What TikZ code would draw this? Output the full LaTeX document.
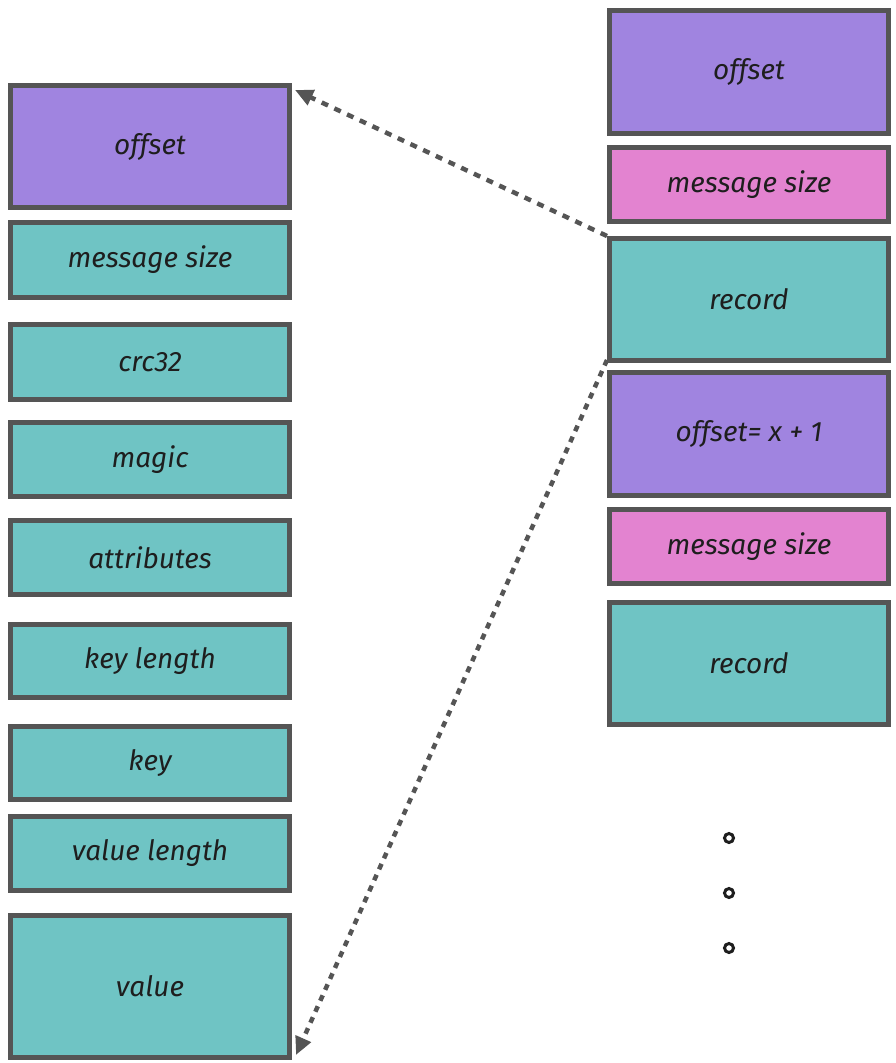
\documentclass[tikz,border=0pt]{standalone}
\usepackage{fontspec}
\setmainfont{Fira Sans}
\usetikzlibrary{arrows.meta}
\definecolor{strk}{HTML}{555555}
\definecolor{vio}{HTML}{A084E0}
\definecolor{pnk}{HTML}{E383D0}
\definecolor{tel}{HTML}{6FC4C4}
\definecolor{txt}{HTML}{1E1E1E}
\tikzset{
  box/.style={draw=strk, line width=5pt, anchor=north west, minimum width=279pt,
    inner sep=0pt, text=txt, font=\fontsize{28}{32}\selectfont\itshape},
  arr/.style={draw=strk, line width=4.5pt, dash pattern=on 7pt off 7pt,
    -{Triangle[length=18pt,width=16pt]}},
  arrb/.style={draw=strk, line width=4.5pt, dash pattern=on 6pt off 6pt,
    -{Triangle[length=18pt,width=16pt]}},
  dotc/.style={circle, draw=txt, line width=3pt, minimum size=9pt, inner sep=0pt}
}
\begin{document}
\begin{tikzpicture}[x=1pt,y=-1pt]
\useasboundingbox (0,0) rectangle (896,1063);
% left column
\node[box, fill=vio, minimum height=122pt] (loff) at (8,83) {offset};
\node[box, fill=tel, minimum height=75pt] (lms) at (8,220) {message size};
\node[box, fill=tel, minimum height=75pt] (lcrc) at (8,322) {crc32};
\node[box, fill=tel, minimum height=74pt] (lmag) at (8,420) {magic};
\node[box, fill=tel, minimum height=74pt] (latt) at (8,518) {attributes};
\node[box, fill=tel, minimum height=73pt] (lkl) at (8,622) {key length};
\node[box, fill=tel, minimum height=73pt] (lkey) at (8,724) {key};
\node[box, fill=tel, minimum height=74pt] (lvl) at (8,814) {value length};
\node[box, fill=tel, minimum height=142pt] (lval) at (8,913) {value};
% right column
\node[box, fill=vio, minimum height=123pt] (roff) at (607,8) {offset};
\node[box, fill=pnk, minimum height=74pt] (rms) at (607,145) {message size};
\node[box, fill=tel, minimum height=122pt] (rrec) at (607,236) {record};
\node[box, fill=vio, minimum height=123pt] (roff2) at (607,370) {offset= x + 1};
\node[box, fill=pnk, minimum height=74pt] (rms2) at (607,507) {message size};
\node[box, fill=tel, minimum height=122pt] (rrec2) at (607,600) {record};
% dots
\node[dotc] (d1) at (729,838) {};
\node[dotc] (d2) at (729,893) {};
\node[dotc] (d3) at (729,948) {};
% arrows
\draw[arr] (rrec.north west) -- ([xshift=3pt,yshift=-7pt]loff.north east);
\draw[arrb] ([yshift=3pt]rrec.south west) -- ([xshift=4pt,yshift=5pt]lval.south east);
\end{tikzpicture}
\end{document}
